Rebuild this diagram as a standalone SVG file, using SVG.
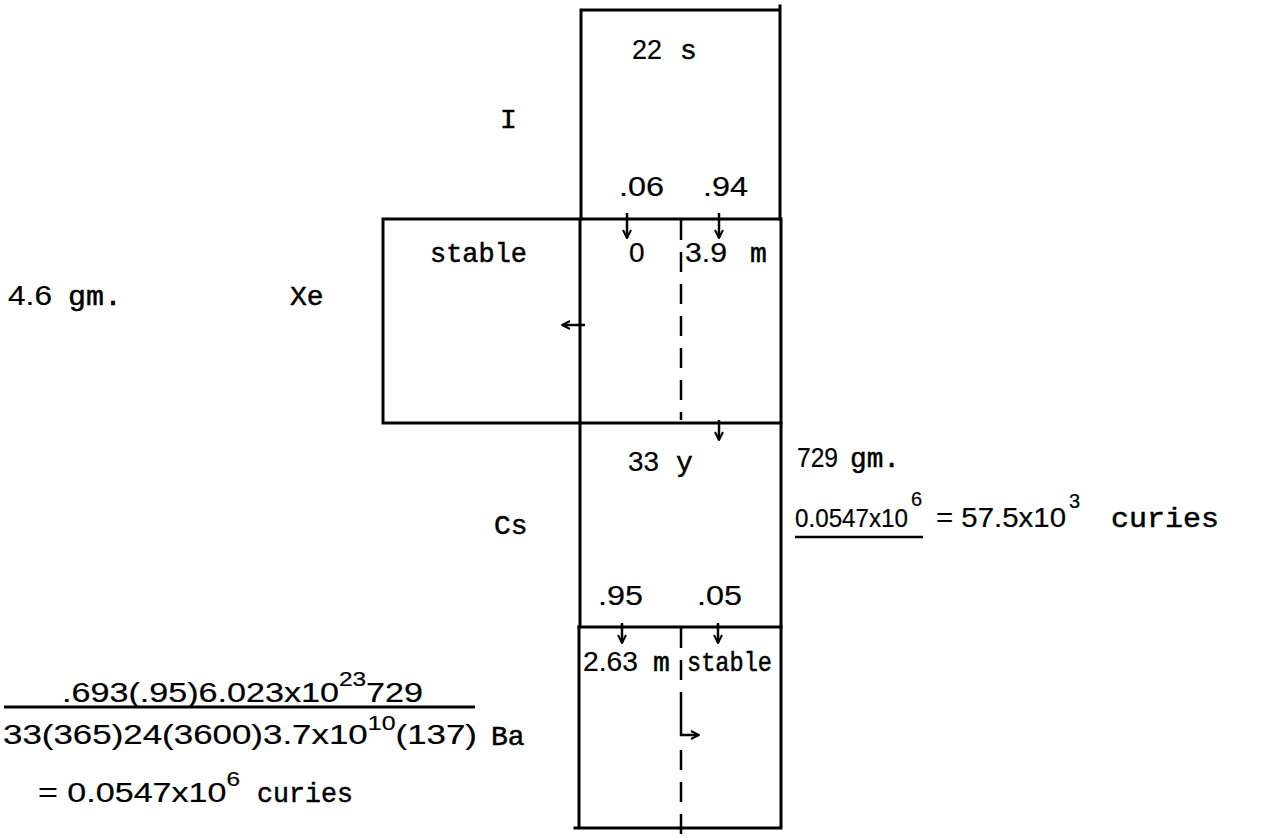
<svg xmlns="http://www.w3.org/2000/svg" width="1278" height="838" viewBox="0 0 1278 838">
<style>
.ln{stroke:#000;stroke-width:3;fill:none;stroke-linecap:square}
.ds{stroke:#000;stroke-width:2.5;fill:none;stroke-dasharray:20 12}
.ar{stroke:#000;stroke-width:2.5;fill:none;marker-end:url(#ah)}
text{font-family:"Liberation Mono","DejaVu Sans Mono",monospace;font-size:28px;fill:#000;stroke:#000;stroke-width:0.5}
.n{font-family:"Liberation Sans","Arimo",sans-serif;stroke-width:0.2}
.sup{font-size:20px}
</style>
<defs>
<marker id="ah" viewBox="0 0 10 10" refX="9" refY="5" markerWidth="10" markerHeight="10" markerUnits="userSpaceOnUse" orient="auto">
<path d="M1,1 L9,5 L1,9" stroke="#000" stroke-width="2" fill="none"/>
</marker>
</defs>
<rect width="1278" height="838" fill="#fff"/>

<g id="node-I">
<path class="ln" d="M581,10 H780 M780,6 V219 M581,10 V219"/>
<text class="n" x="632" y="59" textLength="30" lengthAdjust="spacingAndGlyphs">22</text>
<text x="680" y="59">s</text>
<text x="500" y="128">I</text>
<text class="n" x="619" y="196" textLength="45" lengthAdjust="spacingAndGlyphs">.06</text>
<text class="n" x="703" y="196" textLength="45" lengthAdjust="spacingAndGlyphs">.94</text>
</g>

<g id="node-Xe">
<path class="ln" d="M383,219 H781 M383,219 V423 M383,423 H781 M580,219 V423 M781,219 V423"/>
<text x="430" y="262" textLength="97" lengthAdjust="spacingAndGlyphs">stable</text>
<text class="n" x="629" y="262">0</text>
<text class="n" x="685" y="262" textLength="42" lengthAdjust="spacingAndGlyphs">3.9</text>
<text x="750" y="262">m</text>
<text class="n" x="8" y="305" textLength="44" lengthAdjust="spacingAndGlyphs">4.6</text>
<text x="68" y="305" textLength="54" lengthAdjust="spacingAndGlyphs">gm.</text>
<text x="290" y="305">Xe</text>
</g>

<g id="node-Cs">
<path class="ln" d="M580,423 V627 M781,423 V627 M579,627 H781"/>
<text class="n" x="628" y="471" textLength="31" lengthAdjust="spacingAndGlyphs">33</text>
<text x="676" y="471">y</text>
<text class="n" x="797" y="467" textLength="41" lengthAdjust="spacingAndGlyphs">729</text>
<text x="850" y="467" textLength="50" lengthAdjust="spacingAndGlyphs">gm.</text>
<text x="494" y="534">Cs</text>
<text class="n" x="795" y="527" style="font-size:25px" textLength="113" lengthAdjust="spacingAndGlyphs">0.0547x10</text>
<text class="n sup" x="911" y="506">6</text>
<line x1="795" y1="537" x2="923" y2="537" stroke="#000" stroke-width="2.5"/>
<text class="n" x="936" y="527" textLength="130" lengthAdjust="spacingAndGlyphs">= 57.5x10</text>
<text class="n sup" x="1069" y="508">3</text>
<text x="1111" y="527" textLength="108" lengthAdjust="spacingAndGlyphs">curies</text>
<text class="n" x="598" y="605" textLength="45" lengthAdjust="spacingAndGlyphs">.95</text>
<text class="n" x="697" y="605" textLength="45" lengthAdjust="spacingAndGlyphs">.05</text>
</g>

<g id="node-Ba">
<path class="ln" d="M579,627 V828 M781,627 V828 M575,828 H781"/>
<text class="n" x="583" y="671" textLength="55" lengthAdjust="spacingAndGlyphs">2.63</text>
<text x="653" y="671">m</text>
<text x="687" y="671" textLength="85" lengthAdjust="spacingAndGlyphs">stable</text>
<text x="491" y="745">Ba</text>
</g>

<g id="formula">
<text class="n" x="62" y="702" textLength="361" lengthAdjust="spacingAndGlyphs">.693(.95)6.023x10<tspan class="sup" dy="-16">23</tspan><tspan dy="16">729</tspan></text>
<line x1="4" y1="707" x2="475" y2="707" stroke="#000" stroke-width="3"/>
<text class="n" x="3" y="744" textLength="474" lengthAdjust="spacingAndGlyphs">33(365)24(3600)3.7x10<tspan class="sup" dy="-14">10</tspan><tspan dy="14">(137)</tspan></text>
<text class="n" x="38" y="802" textLength="202" lengthAdjust="spacingAndGlyphs">= 0.0547x10<tspan class="sup" dy="-16">6</tspan></text>
<text x="257" y="802" textLength="96" lengthAdjust="spacingAndGlyphs">curies</text>
</g>

<g id="connectors">
<line class="ds" x1="681" y1="220" x2="681" y2="420"/>
<line class="ds" x1="681" y1="628" x2="681" y2="712" stroke-dasharray="42 6 20 0"/>
<line class="ds" x1="681" y1="750" x2="681" y2="838" stroke-dasharray="23 17"/>
<path class="ar" d="M627,213 V238"/>
<path class="ar" d="M719,213 V238"/>
<path class="ar" d="M585,325 H562"/>
<path class="ar" d="M719,420 V440"/>
<path class="ar" d="M622,623 V643"/>
<path class="ar" d="M718,623 V643"/>
<path class="ar" d="M681,712 V735 H699"/>
</g>
</svg>
